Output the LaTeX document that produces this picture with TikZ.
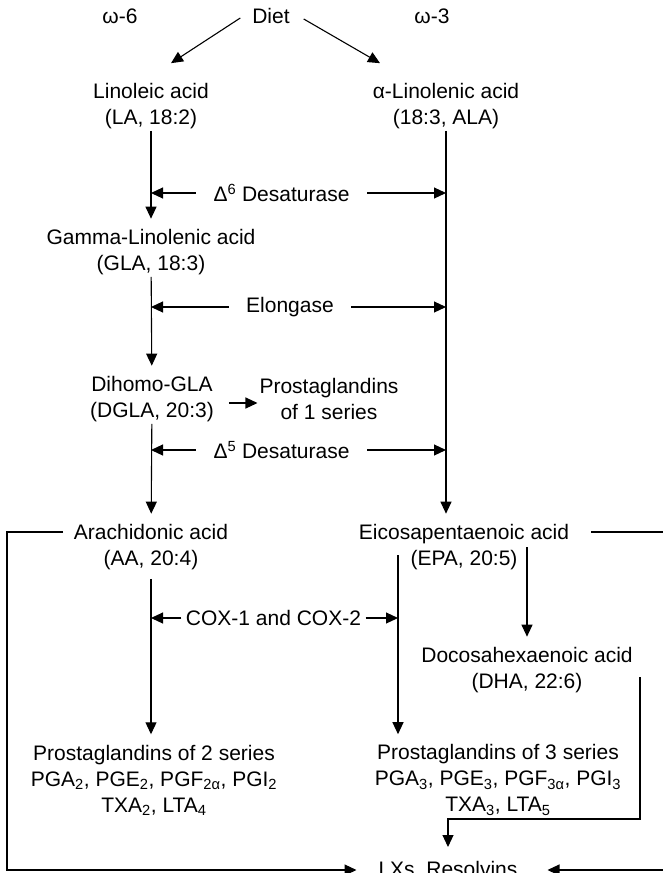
\documentclass[tikz,border=0pt]{standalone}
\usepackage{fontspec}
\setmainfont{Liberation Sans}
\usetikzlibrary{arrows.meta}

\tikzset{
  acid/.style={align=center,inner sep=1.5pt},
  enzyme/.style={inner xsep=17pt,inner ysep=1.5pt},
  flow/.style={->,shorten >=8.5pt},
}

\begin{document}
\begin{tikzpicture}[x=1pt,y=-1pt,>={Triangle[length=12pt,width=11pt]},line width=1.1pt,font=\fontsize{21}{26}\selectfont]
  \useasboundingbox (0,0) rectangle (662,873);
  % the diet and the two families
  \node (w6) at (120,16) {ω-6};
  \node[inner sep=1.5pt] (diet) at (271,16) {Diet};
  \node (w3) at (432,16) {ω-3};
  % acids and products
  \node[acid] (la) at (151,106) {Linoleic acid\\(LA, 18:2)};
  \node[acid] (ala) at (446,106) {α-Linolenic acid\\(18:3, ALA)};
  \node[acid] (gla) at (151,252) {Gamma-Linolenic acid\\(GLA, 18:3)};
  \node[acid] (dgla) at (152,399) {Dihomo-GLA\\(DGLA, 20:3)};
  \node[acid] (pg1) at (329,399) {Prostaglandins\\of 1 series};
  \node[acid] (aa) at (151,547) {Arachidonic acid\\(AA, 20:4)};
  \node[acid] (epa) at (464,547) {Eicosapentaenoic acid\\(EPA, 20:5)};
  \node[acid] (dha) at (527,670) {Docosahexaenoic acid\\(DHA, 22:6)};
  \node[acid] (pg2) at (154,780) {Prostaglandins of 2 series\\PGA\textsubscript{2}, PGE\textsubscript{2}, PGF\textsubscript{2α}, PGI\textsubscript{2}\\TXA\textsubscript{2}, LTA\textsubscript{4}};
  \node[acid] (pg3) at (498,780) {Prostaglandins of 3 series\\PGA\textsubscript{3}, PGE\textsubscript{3}, PGF\textsubscript{3α}, PGI\textsubscript{3}\\TXA\textsubscript{3}, LTA\textsubscript{5}};
  \node[acid] (lx) at (448,870) {LXs, Resolvins};
  % enzymes
  \node[enzyme] (d6) at (281.5,193) {Δ\textsuperscript{6} Desaturase};
  \node[enzyme] (elo) at (290,307) {Elongase};
  \node[enzyme] (d5) at (281.5,450) {Δ\textsuperscript{5} Desaturase};
  \node[inner xsep=4pt] (cox) at (273.5,618) {COX-1 and COX-2};
  % free ends of the side branches
  \coordinate (aal) at (63,532);
  \coordinate (lcorner) at (7,532);
  \coordinate (epar) at (591,532);
  \coordinate (rcorner) at (666,532);
  \coordinate (e3) at (398,555);
  \coordinate (e4) at (527,547);
  \coordinate (h1) at (640,677);
  \coordinate (h2) at (640,819);
  % diet splits
  \draw[->] ([xshift=-10pt,yshift=-2pt]diet.west) -- ([xshift=20pt,yshift=18pt]la.north);
  \draw[->] ([xshift=12pt,yshift=-3pt]diet.east) -- ([xshift=-66pt,yshift=18pt]ala.north);
  % omega-6 trunk
  \draw[flow] (la) -- (gla);
  \draw[flow] (gla) -- (dgla);
  \draw[flow] (dgla) -- (aa);
  \draw[flow,shorten <=7pt] (aa.south) -- (aa.south |- pg2.north);
  \draw[->,shorten <=13pt] ([yshift=-4pt]dgla.east) -- ([yshift=-4pt]pg1.west);
  % omega-3 trunk
  \draw[flow] (ala) -- (ala |- epa.north);
  \draw[flow] (e3) -- (e3 |- pg3.north);
  \draw[flow] (e4) -- (dha.north);
  \draw[->,shorten >=12pt] (h1) -- (h2) -| (lx.north);
  % enzymes act on both trunks
  \foreach \e in {d6,elo,d5} {
    \draw[->] (\e) -- (\e -| la);
    \draw[->] (\e) -- (\e -| ala);
  }
  \draw[->] (cox) -- (cox -| aa);
  \draw[->] (cox) -- (cox -| e3);
  % both families to the resolvins
  \draw[->,shorten >=20pt] (aal) -- (lcorner) |- (lx.west);
  \draw[->,shorten >=28pt] (epar) -- (rcorner) |- (lx.east);
\end{tikzpicture}
\end{document}
